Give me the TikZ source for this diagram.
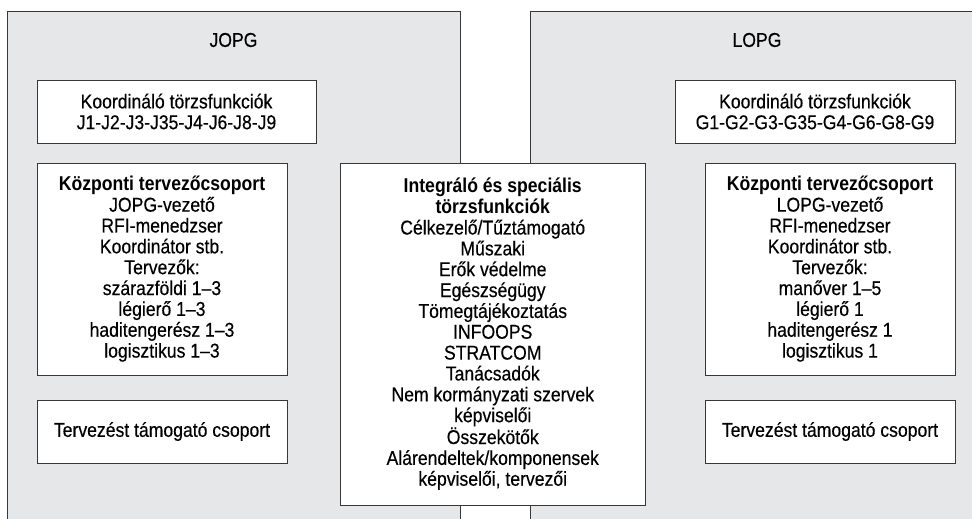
\documentclass[tikz,border=0pt]{standalone}
\usepackage{fontspec}
\setmainfont{Liberation Sans}[FakeStretch=0.88, UprightFeatures={FakeBold=0.35}]
\definecolor{panelgray}{RGB}{230,231,232}
\definecolor{linegray}{RGB}{55,55,55}

\begin{document}
\begin{tikzpicture}[x=1pt, y=-1pt,
    box/.style={draw=linegray, line width=0.9pt, fill=white, align=center, inner sep=0pt,
      font=\fontsize{20}{20.85}\selectfont},
    grouplabel/.style={font=\fontsize{20}{20.85}\selectfont}]
  \useasboundingbox (0,0) rectangle (972,519);
  \begin{scope}
    \clip (0,0) rectangle (972,519);
    \fill [panelgray] (7,12) rectangle (460,540);
    \draw [linegray, line width=1pt] (7,540) -- (7,12) -- (460,12) -- (460,540);
    \fill [panelgray] (530,12) rectangle (990,540);
    \draw [linegray, line width=1pt] (530,540) -- (530,12) -- (990,12);
  \end{scope}
  \node [grouplabel] (jopg) at (233.5,40) {JOPG};
  \node [grouplabel] (lopg) at (757,40) {LOPG};
  \node [box, minimum width=279pt, minimum height=63pt] (jkoord) at (176.5,111.5)
    {Koordináló törzsfunkciók\\J1-J2-J3-J35-J4-J6-J8-J9};
  \node [box, minimum width=250pt, minimum height=212pt] (jkozp) at (162,269)
    {\textbf{Központi tervezőcsoport}\\JOPG-vezető\\RFI-menedzser\\Koordinátor stb.\\Tervezők:\\szárazföldi 1–3\\légierő 1–3\\haditengerész 1–3\\logisztikus 1–3};
  \node [box, minimum width=250pt, minimum height=63pt] (jtam) at (162,431.5)
    {Tervezést támogató csoport};
  \node [box, minimum width=304.5pt, minimum height=342pt] (integr) at (492.75,334)
    {\textbf{Integráló és speciális}\\\textbf{törzsfunkciók}\\Célkezelő/Tűztámogató\\Műszaki\\Erők védelme\\Egészségügy\\Tömegtájékoztatás\\INFOOPS\\STRATCOM\\Tanácsadók\\Nem kormányzati szervek\\képviselői\\Összekötők\\Alárendeltek/komponensek\\képviselői, tervezői};
  \node [box, minimum width=280pt, minimum height=63pt] (lkoord) at (815,111.5)
    {Koordináló törzsfunkciók\\G1-G2-G3-G35-G4-G6-G8-G9};
  \node [box, minimum width=250pt, minimum height=212pt] (lkozp) at (830,269)
    {\textbf{Központi tervezőcsoport}\\LOPG-vezető\\RFI-menedzser\\Koordinátor stb.\\Tervezők:\\manőver 1–5\\légierő 1\\haditengerész 1\\logisztikus 1};
  \node [box, minimum width=250pt, minimum height=63pt] (ltam) at (830,431.5)
    {Tervezést támogató csoport};
\end{tikzpicture}
\end{document}
